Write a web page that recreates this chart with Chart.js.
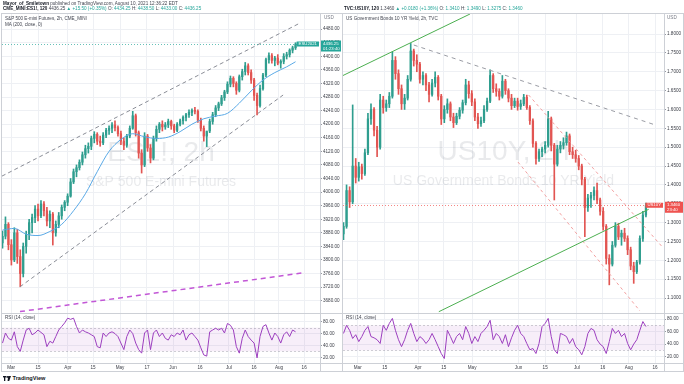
<!DOCTYPE html>
<html><head><meta charset="utf-8">
<script src="https://cdn.jsdelivr.net/npm/chart.js@4.4.1/dist/chart.umd.min.js"></script>
<style>
html,body{margin:0;padding:0;background:#fff;}
body{width:684px;height:384px;position:relative;overflow:hidden;font-family:"Liberation Sans",Arial,sans-serif;}
canvas{position:absolute;}
.t{position:absolute;white-space:nowrap;font-size:4.6px;line-height:5px;color:#434651;z-index:5;}
.t b{color:#131722;}
.g{color:#26a69a;}
.ln{position:absolute;background:#cdd0d6;z-index:4;}
</style></head><body>
<script>
// ---------------- DATA ----------------
// S&P 500 E-mini (ES1!) candles, one per step of the x index
const esOpen=[3850,3870,3905,3845,3800,3880,3810,3760,3840,3875,3910,3925,3950,3930,3965,3945,3915,3935,3880,3905,3930,3955,3970,3988,4030,4060,4072,4088,4110,4128,4135,4158,4170,4150,4145,4168,4182,4188,4198,4190,4172,4150,4138,4165,4188,4225,4175,4115,4080,4165,4130,4100,4158,4185,4200,4192,4198,4208,4195,4182,4200,4210,4220,4228,4235,4240,4238,4212,4188,4165,4180,4208,4228,4248,4260,4278,4295,4318,4335,4320,4300,4340,4355,4372,4352,4330,4285,4255,4305,4345,4390,4402,4388,4395,4380,4385,4400,4405,4418,4425];
const esHigh=[3885,3927,3910,3860,3895,3890,3830,3850,3885,3920,3935,3960,3965,3975,3972,3955,3945,3940,3915,3940,3962,3975,3995,4040,4068,4080,4095,4118,4138,4145,4165,4178,4175,4165,4175,4188,4195,4205,4210,4195,4180,4160,4170,4195,4238,4230,4180,4125,4175,4170,4140,4165,4195,4205,4210,4205,4215,4212,4200,4205,4215,4225,4232,4242,4245,4250,4242,4218,4195,4175,4215,4235,4255,4265,4285,4300,4325,4342,4340,4325,4345,4362,4382,4378,4360,4335,4292,4315,4350,4395,4410,4408,4400,4405,4390,4408,4412,4422,4430,4440];
const esLow=[3835,3862,3830,3785,3795,3790,3721,3750,3820,3860,3880,3910,3915,3925,3930,3900,3895,3844,3870,3895,3920,3945,3960,3985,4025,4045,4065,4080,4100,4115,4125,4145,4140,4135,4140,4160,4170,4175,4180,4165,4140,4125,4132,4160,4185,4165,4100,4056,4075,4120,4086,4095,4150,4175,4180,4185,4190,4185,4175,4178,4195,4200,4210,4220,4225,4230,4205,4180,4150,4134,4175,4200,4222,4240,4255,4270,4290,4310,4310,4288,4295,4330,4345,4345,4320,4270,4227,4250,4300,4340,4380,4380,4372,4375,4365,4378,4392,4398,4410,4420];
const esClose=[3870,3905,3845,3800,3880,3810,3760,3840,3875,3910,3925,3950,3930,3965,3945,3915,3935,3880,3905,3930,3955,3970,3988,4030,4060,4072,4088,4110,4128,4135,4158,4170,4150,4145,4168,4182,4188,4198,4190,4172,4150,4138,4165,4188,4225,4175,4115,4080,4165,4130,4100,4158,4185,4200,4192,4198,4208,4195,4182,4200,4210,4220,4228,4235,4240,4238,4212,4188,4165,4180,4208,4228,4248,4260,4278,4295,4318,4335,4320,4300,4340,4355,4372,4352,4330,4285,4255,4305,4345,4390,4402,4388,4395,4380,4385,4400,4405,4418,4425,4436.25];
const esMaIdx=[0,4,8,12,16,20,24,28,32,36,40,44,48,52,56,60,64,68,72,76,80,84,88,92,96,99];
const esMaVal=[3888,3893,3876,3872,3884,3905,3945,3995,4060,4120,4155,4172,4163,4158,4162,4178,4200,4216,4224,4232,4262,4298,4330,4352,4369,4384];
const esRsi=[44,61,52,49,63,38,30,49,66,69,58,61,66,62,58,38,47,44,55,66,72,78,86,84,86,72,61,66,63,61,58,55,38,36,61,55,61,63,60,55,44,33,55,66,60,44,33,27,61,66,33,61,66,55,61,52,49,58,55,61,58,66,49,58,61,55,49,36,24,22,63,66,69,66,69,61,77,74,66,38,27,52,66,55,49,44,19,55,72,75,61,49,61,55,44,58,63,55,66,63];
const esUpperIdx=[-0.2,100.5], esUpperVal=[4047,4498];
const esLowerIdx=[5.9,94.8], esLowerVal=[3721,4286];
const esPurpleIdx=[5.9,101.5], esPurpleVal=[3648,3762];
const esPriceTicks=[3680,3720,3760,3800,3840,3880,3920,3960,4000,4040,4080,4120,4160,4200,4240,4280,4320,4360,4400,4440,4480];
const esDatePos=[2.9,12.0,22.1,30.6,39.7,48.8,57.6,66.7,76.5,85.0,93.4,101.9];
const esDateLabels=['Mar','15','Apr','15','May','17','Jun','16','Jul','16','Aug','16'];

// US 10Y yield candles
const usOpen=[1.270,1.290,1.385,1.355,1.450,1.420,1.448,1.430,1.485,1.575,1.600,1.545,1.500,1.625,1.605,1.615,1.635,1.730,1.695,1.655,1.615,1.630,1.680,1.755,1.730,1.720,1.680,1.690,1.665,1.640,1.670,1.685,1.635,1.575,1.600,1.615,1.580,1.565,1.582,1.598,1.618,1.665,1.642,1.620,1.580,1.562,1.570,1.600,1.622,1.690,1.655,1.648,1.635,1.675,1.650,1.630,1.610,1.622,1.608,1.615,1.632,1.605,1.570,1.510,1.470,1.488,1.495,1.505,1.575,1.505,1.455,1.495,1.505,1.512,1.530,1.488,1.480,1.470,1.450,1.415,1.340,1.365,1.372,1.385,1.360,1.330,1.290,1.205,1.190,1.240,1.290,1.262,1.272,1.258,1.228,1.185,1.170,1.195,1.258,1.320];
const usHigh=[1.300,1.400,1.395,1.612,1.470,1.460,1.455,1.495,1.590,1.615,1.605,1.555,1.640,1.635,1.625,1.645,1.752,1.740,1.705,1.665,1.640,1.690,1.775,1.760,1.745,1.725,1.700,1.695,1.672,1.680,1.700,1.690,1.640,1.610,1.628,1.620,1.590,1.590,1.605,1.625,1.680,1.675,1.650,1.628,1.590,1.580,1.610,1.630,1.705,1.695,1.668,1.655,1.690,1.680,1.655,1.640,1.630,1.630,1.625,1.640,1.638,1.610,1.575,1.515,1.495,1.500,1.515,1.595,1.580,1.510,1.505,1.515,1.525,1.540,1.535,1.500,1.492,1.478,1.455,1.420,1.375,1.380,1.395,1.405,1.365,1.340,1.295,1.215,1.250,1.300,1.298,1.280,1.285,1.265,1.235,1.195,1.200,1.265,1.330,1.352];
const usLow=[1.255,1.285,1.340,1.350,1.405,1.410,1.415,1.425,1.480,1.560,1.530,1.475,1.495,1.590,1.595,1.605,1.630,1.680,1.640,1.600,1.600,1.625,1.675,1.715,1.700,1.670,1.665,1.650,1.620,1.635,1.660,1.625,1.560,1.565,1.590,1.570,1.552,1.560,1.575,1.590,1.612,1.630,1.610,1.570,1.550,1.555,1.565,1.595,1.618,1.645,1.635,1.625,1.630,1.640,1.620,1.600,1.605,1.598,1.600,1.610,1.600,1.560,1.500,1.455,1.462,1.475,1.485,1.500,1.490,1.360,1.450,1.485,1.495,1.505,1.480,1.470,1.460,1.440,1.400,1.263,1.330,1.340,1.360,1.350,1.320,1.280,1.190,1.135,1.185,1.235,1.255,1.240,1.250,1.215,1.175,1.139,1.165,1.190,1.250,1.315];
const usClose=[1.290,1.385,1.355,1.450,1.420,1.448,1.430,1.485,1.575,1.600,1.545,1.500,1.625,1.605,1.615,1.635,1.730,1.695,1.655,1.615,1.630,1.680,1.755,1.730,1.720,1.680,1.690,1.665,1.640,1.670,1.685,1.635,1.575,1.600,1.615,1.580,1.565,1.582,1.598,1.618,1.665,1.642,1.620,1.580,1.562,1.570,1.600,1.622,1.690,1.655,1.648,1.635,1.675,1.650,1.630,1.610,1.622,1.608,1.615,1.632,1.605,1.570,1.510,1.470,1.488,1.495,1.505,1.575,1.505,1.455,1.495,1.505,1.512,1.530,1.488,1.480,1.470,1.450,1.415,1.340,1.365,1.372,1.385,1.360,1.330,1.290,1.205,1.190,1.240,1.290,1.262,1.272,1.258,1.228,1.185,1.170,1.195,1.258,1.320,1.346];
const usRsi=[57,70,62,49,55,44,52,62,68,52,50,47,41,70,62,73,81,62,47,36,47,62,73,57,44,52,48,41,47,57,47,36,25,17,62,52,41,52,57,47,68,57,41,52,44,57,62,68,78,47,57,52,41,55,36,50,62,70,57,52,41,31,33,25,41,68,73,81,52,31,25,57,55,52,41,49,36,31,23,36,57,65,62,47,40,36,25,44,65,57,62,52,57,41,31,40,47,62,76,68];
const usGreenUpIdx=[-0.5,41.4], usGreenUpVal=[1.6887,1.853];
const usGreenLoIdx=[31.2,99.9], usGreenLoVal=[1.0638,1.3353];
const usGrayIdx=[23,102.1], usGrayVal=[1.7708,1.5588];
const usRed1Idx=[60.6,104.3], usRed1Val=[1.6383,1.2361];
const usRed2Idx=[57.1,97.05], usRed2Val=[1.4607,1.0657];
const usPriceTicks=[1.10,1.15,1.20,1.25,1.30,1.35,1.40,1.45,1.50,1.55,1.60,1.65,1.70,1.75,1.80];
const usDatePos=[4.65,13.5,24.4,32.8,42.1,57.3,66,76.4,84.9,93.4,102];
const usDateLabels=['Mar','15','Apr','15','May','Jun','15','Jul','16','Aug','16'];

const rsiTicks=[20,40,60,80];
const rsiBand=[30,70];
</script>

<!-- header texts -->
<div class="t" style="left:3px;top:0.5px;"><b>Mayor_of_Smiletown</b> published on TradingView.com, August 10, 2021 12:36:22 EDT</div>
<div class="t" style="left:3px;top:6px;"><b>CME_MINI:ES1!, 120</b> 4436.25 <span class="g">▲ +15.50 (+0.35%)</span> O: <span class="g">4434.25</span> H: <span class="g">4438.50</span> L: <span class="g">4433.00</span> C: <span class="g">4436.25</span></div>
<div class="t" style="left:344px;top:6px;"><b>TVC:US10Y, 120</b> 1.3460 <span class="g">▲ +0.0180 (+1.36%)</span> O: <span class="g">1.3410</span> H: <span class="g">1.3490</span> L: <span class="g">1.3275</span> C: <span class="g">1.3460</span></div>
<div class="t" style="left:5px;top:16px;">S&amp;P 500 E-mini Futures, 2h, CME_MINI</div>
<div class="t" style="left:5px;top:22px;">MA (200, close, 0)</div>
<div class="t" style="left:346px;top:16px;">US Government Bonds 10 YR Yield, 2h, TVC</div>
<div class="t" style="left:5px;top:314.5px;">RSI (14, close)</div>
<div class="t" style="left:346px;top:314.5px;">RSI (14, close)</div>
<div class="t" style="left:324px;top:15px;color:#787b86;">USD</div>
<div class="t" style="left:667px;top:15px;color:#787b86;">USD</div>
<div style="position:absolute;left:3px;top:375px;font-size:5.6px;font-weight:bold;color:#131722;white-space:nowrap;">
<svg width="8" height="5" viewBox="0 0 8 5" style="vertical-align:-0.5px"><rect x="0" y="0" width="3.2" height="1.4" fill="#131722"/><rect x="1" y="0" width="1.3" height="5" fill="#131722"/><circle cx="4.3" cy="0.9" r="0.9" fill="#131722"/><path d="M5.2 0 L8 0 L6.2 5 L4.6 5 Z" fill="#131722"/></svg> TradingView</div>

<canvas id="esP" width="342" height="300" style="left:0;top:13px"></canvas>
<canvas id="esR" width="342" height="58" style="left:0;top:313px"></canvas>
<canvas id="usP" width="342" height="300" style="left:342px;top:13px"></canvas>
<canvas id="usR" width="342" height="58" style="left:342px;top:313px"></canvas>

<!-- pane frames -->
<div class="ln" style="left:1px;top:13px;width:341px;height:1px"></div>
<div class="ln" style="left:1px;top:371px;width:341px;height:1px"></div>
<div class="ln" style="left:1px;top:13px;width:1px;height:359px"></div>
<div class="ln" style="left:320px;top:13px;width:1px;height:359px"></div>
<div class="ln" style="left:1px;top:313px;width:341px;height:1px"></div>
<div class="ln" style="left:1px;top:363px;width:341px;height:1px"></div>
<div class="ln" style="left:342px;top:13px;width:342px;height:1px"></div>
<div class="ln" style="left:342px;top:371px;width:342px;height:1px"></div>
<div class="ln" style="left:342px;top:13px;width:1px;height:359px"></div>
<div class="ln" style="left:683px;top:13px;width:1px;height:359px"></div>
<div class="ln" style="left:664px;top:13px;width:1px;height:359px"></div>
<div class="ln" style="left:342px;top:313px;width:342px;height:1px"></div>
<div class="ln" style="left:342px;top:363px;width:342px;height:1px"></div>

<script>
Chart.defaults.font.family='"Liberation Sans", Arial, sans-serif';
const UP='#2f9e8f', DOWN='#e25552', GRID='#eef0f4', TXT='#3a3d46';

const wmPlugin={id:'wm',
  beforeDatasetsDraw(chart,args,o){
    const {ctx,chartArea:a}=chart; const cx=(a.left+a.right)/2;
    ctx.save(); ctx.fillStyle='rgba(120,123,134,0.16)'; ctx.textAlign='center';
    ctx.font='28px "Liberation Sans", Arial, sans-serif'; ctx.fillText(o.title,cx,o.y1);
    ctx.font='14px "Liberation Sans", Arial, sans-serif'; ctx.fillText(o.sub,cx,o.y2);
    ctx.restore();
  }};
const lastPlugin={id:'last',
  afterDatasetsDraw(chart,args,o){
    const {ctx,chartArea:a,scales:{y}}=chart; const py=Math.round(y.getPixelForValue(o.value))+0.5;
    ctx.save(); ctx.strokeStyle=o.color; ctx.globalAlpha=0.7; ctx.setLineDash([1,2]); ctx.lineWidth=1;
    ctx.beginPath(); ctx.moveTo(a.left,py); ctx.lineTo(a.right,py); ctx.stroke(); ctx.restore();
  },
  afterDraw(chart,args,o){
    const {ctx,chartArea:a,scales:{y}}=chart; const py=y.getPixelForValue(o.value);
    ctx.save(); ctx.font='4.3px "Liberation Sans", Arial, sans-serif';
    const w=ctx.measureText(o.tag).width+4;
    ctx.fillStyle=o.color;
    ctx.fillRect(a.right-w-1,py-2.5,w,5);
    ctx.fillRect(a.right+1,py-3.5,chart.width-a.right-2,11);
    ctx.fillStyle='#fff'; ctx.textBaseline='middle'; ctx.textAlign='left';
    ctx.fillText(o.tag,a.right-w+1,py);
    ctx.fillText(o.text,a.right+3,py);
    ctx.fillText(o.timer,a.right+3,py+4.5);
    ctx.restore();
  }};
const bandPlugin={id:'band',
  beforeDatasetsDraw(chart,args,o){
    const {ctx,chartArea:a,scales:{y}}=chart;
    const yHi=y.getPixelForValue(o.band[1]), yLo=y.getPixelForValue(o.band[0]);
    ctx.save(); ctx.fillStyle='rgba(156,39,176,0.08)'; ctx.fillRect(a.left,yHi,a.right-a.left,yLo-yHi);
    ctx.strokeStyle='rgba(120,123,134,0.35)'; ctx.setLineDash([2,2]); ctx.lineWidth=1;
    [yHi,yLo].forEach(v=>{ctx.beginPath();ctx.moveTo(a.left,Math.round(v)+0.5);ctx.lineTo(a.right,Math.round(v)+0.5);ctx.stroke();});
    ctx.restore();
  }};

function pts(xs,ys){return xs.map((x,i)=>({x:x,y:ys[i]}));}
function trend(xs,ys,color,dash,width,order){
  return {type:'line',data:pts(xs,ys),borderColor:color,borderDash:dash,borderWidth:width,pointRadius:0,order:order,tension:0};
}
function xScale(min,max,pos,labels,showLabels){
  return {type:'linear',min:min,max:max,offset:false,
    afterBuildTicks:s=>{s.ticks=pos.map(v=>({value:v}));},
    ticks:{display:showLabels,autoSkip:false,maxRotation:0,minRotation:0,padding:2,color:TXT,font:{size:4.6},
      callback:(v,i)=>labels[i]},
    grid:{color:GRID,drawTicks:false,offset:false},border:{display:false},
    afterFit:s=>{s.height=showLabels?8:0;s.paddingLeft=0;s.paddingRight=0;}};
}
function yScale(min,max,ticks,dec,w){
  return {position:'right',min:min,max:max,
    afterBuildTicks:s=>{s.ticks=ticks.map(v=>({value:v}));},
    ticks:{padding:1,color:TXT,font:{size:4.6},callback:v=>Number(v).toFixed(dec)},
    grid:{color:GRID,tickLength:2,tickColor:'#9598a1'},border:{display:false},
    afterFit:s=>{s.width=w;s.paddingTop=0;s.paddingBottom=0;}};
}
function candles(o,h,l,c,extra,cfg){
  const col=ctx=>c[ctx.dataIndex]>=o[ctx.dataIndex]?UP:DOWN;
  const wick={type:'bar',data:h.map((v,i)=>({x:i,y:[l[i],v]})),backgroundColor:col,barThickness:1,grouped:false,order:6};
  const body={type:'bar',data:o.map((v,i)=>({x:i,y:[v,c[i]]})),backgroundColor:col,barThickness:1.6,minBarLength:1,grouped:false,order:5};
  return {type:'bar',data:{datasets:[wick,body].concat(extra)},
    options:{responsive:false,animation:false,devicePixelRatio:1,
      layout:{padding:{left:cfg.padL,right:0,top:0,bottom:0}},
      plugins:{legend:{display:false},tooltip:{enabled:false},
        wm:cfg.wm,last:cfg.last},
      scales:{x:xScale(cfg.xmin,cfg.xmax,cfg.datePos,cfg.dateLabels,false),
              y:yScale(cfg.ymin,cfg.ymax,cfg.ticks,cfg.dec,cfg.axisW)}},
    plugins:[wmPlugin,lastPlugin]};
}
function rsiChart(vals,cfg){
  return {type:'line',data:{datasets:[{data:vals.map((v,i)=>({x:i,y:v})),borderColor:'#9c3fbf',borderWidth:1,pointRadius:0,tension:0}]},
    options:{responsive:false,animation:false,devicePixelRatio:1,
      layout:{padding:{left:cfg.padL,right:0,top:0,bottom:0}},
      plugins:{legend:{display:false},tooltip:{enabled:false},band:{band:rsiBand}},
      scales:{x:xScale(cfg.xmin,cfg.xmax,cfg.datePos,cfg.dateLabels,true),
              y:yScale(cfg.ymin,cfg.ymax,rsiTicks,2,cfg.axisW)}},
    plugins:[bandPlugin]};
}

const esCfg={padL:2,axisW:22,xmin:-0.17,xmax:107.26,datePos:esDatePos,dateLabels:esDateLabels,
  ymin:3643.8,ymax:4527.6,ticks:esPriceTicks,dec:2,
  wm:{title:'ES1!, 2h',sub:'S&P 500 E-mini Futures',y1:148,y2:173},
  last:{value:esClose[esClose.length-1],color:'#26a69a',tag:'ESU2021',text:'4436.25',timer:'01:23:40'}};
new Chart(document.getElementById('esP'),candles(esOpen,esHigh,esLow,esClose,[
  {type:'line',data:pts(esMaIdx,esMaVal),borderColor:'#5aa9e6',borderWidth:1,pointRadius:0,cubicInterpolationMode:'monotone',order:3},
  trend(esUpperIdx,esUpperVal,'#8a8d96',[4,3],1,2),
  trend(esLowerIdx,esLowerVal,'#8a8d96',[4,3],1,2),
  trend(esPurpleIdx,esPurpleVal,'#c257d6',[5,4],1.5,1)
],esCfg));
new Chart(document.getElementById('esR'),rsiChart(esRsi,{padL:2,axisW:22,xmin:-0.17,xmax:107.26,datePos:esDatePos,dateLabels:esDateLabels,ymin:10.4,ymax:94.7}));

const usCfg={padL:1,axisW:20,xmin:-0.164,xmax:104.91,datePos:usDatePos,dateLabels:usDateLabels,
  ymin:1.0604,ymax:1.8557,ticks:usPriceTicks,dec:4,
  wm:{title:'US10Y, 2h',sub:'US Government Bonds 10 YR Yield',y1:147,y2:172},
  last:{value:usClose[usClose.length-1],color:'#ef5350',tag:'US10Y',text:'1.3460',timer:'23:40'}};
new Chart(document.getElementById('usP'),candles(usOpen,usHigh,usLow,usClose,[
  trend(usGreenUpIdx,usGreenUpVal,'#4caf50',[],1,1),
  trend(usGreenLoIdx,usGreenLoVal,'#4caf50',[],1,1),
  trend(usGrayIdx,usGrayVal,'#9a9ca4',[4,4],1,2),
  trend(usRed1Idx,usRed1Val,'#f2a0a0',[3,3],1,2),
  trend(usRed2Idx,usRed2Val,'#f2a0a0',[3,3],1,2)
],usCfg));
new Chart(document.getElementById('usR'),rsiChart(usRsi,{padL:1,axisW:20,xmin:-0.164,xmax:104.91,datePos:usDatePos,dateLabels:usDateLabels,ymin:9.9,ymax:89.6}));
</script>
</body></html>
